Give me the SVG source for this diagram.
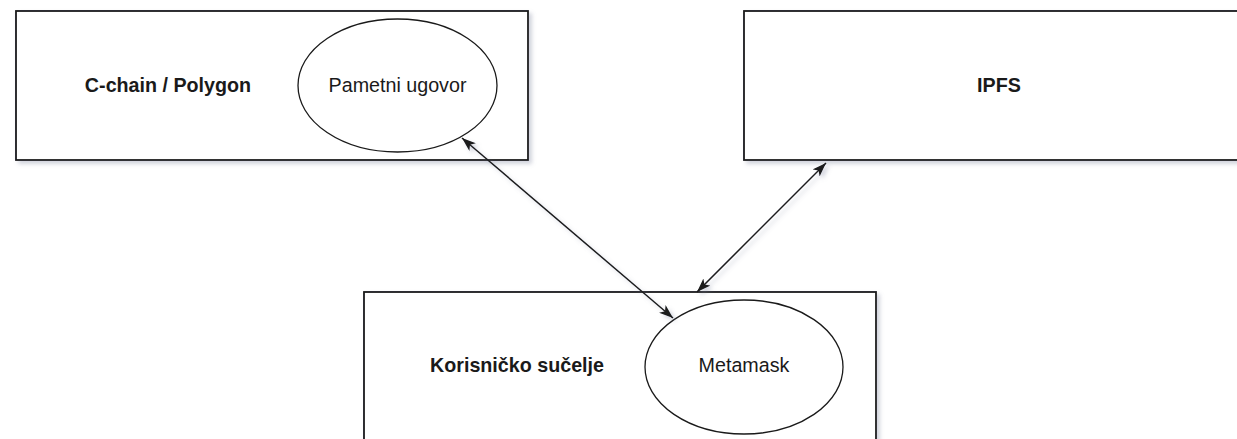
<svg xmlns="http://www.w3.org/2000/svg" width="1237" height="439" viewBox="0 0 1237 439">
  <style>
    .box { fill: #ffffff; stroke: #1a1a1a; stroke-width: 1.8; }
    .ell { fill: #ffffff; stroke: #1a1a1a; stroke-width: 1.3; }
    .lbl-b { font-family: "Liberation Sans", Arial, sans-serif; font-size: 19.7px; font-weight: bold; fill: #1a1a1a; text-anchor: middle; }
    .lbl { font-family: "Liberation Sans", Arial, sans-serif; font-size: 19.7px; fill: #1a1a1a; text-anchor: middle; }
    .conn { stroke: #1a1a1a; stroke-width: 1.5; fill: none; marker-start: url(#arr); marker-end: url(#arr); }
  </style>
  <defs>
    <filter id="sh" x="-5%" y="-10%" width="115%" height="130%">
      <feDropShadow dx="3" dy="3" stdDeviation="2" flood-color="#7a7f9a" flood-opacity="0.35"/>
    </filter>
    <marker id="arr" viewBox="0 0 14 10" refX="14" refY="5" markerWidth="14" markerHeight="10" markerUnits="userSpaceOnUse" orient="auto-start-reverse">
      <path d="M0,0 L14,5 L0,10 L3.5,5 Z" fill="#1a1a1a"/>
    </marker>
  </defs>

  <g id="node-cchain">
    <rect class="box" x="16" y="11" width="512" height="149" filter="url(#sh)"/>
    <text class="lbl-b" x="168" y="92">C-chain / Polygon</text>
  </g>
  <g id="node-pametni">
    <ellipse class="ell" cx="397.5" cy="85.5" rx="99.5" ry="66.5"/>
    <text class="lbl" x="397.5" y="92">Pametni ugovor</text>
  </g>
  <g id="node-ipfs">
    <rect class="box" x="744" y="11" width="512" height="149" filter="url(#sh)"/>
    <text class="lbl-b" x="999" y="92">IPFS</text>
  </g>
  <g id="node-korisnicko">
    <rect class="box" x="364" y="292" width="512" height="149" filter="url(#sh)"/>
    <text class="lbl-b" x="517" y="372">Korisničko sučelje</text>
  </g>
  <g id="node-metamask">
    <ellipse class="ell" cx="744" cy="367" rx="99" ry="67"/>
    <text class="lbl" x="744" y="372">Metamask</text>
  </g>

  <g id="connectors" filter="url(#sh)">
    <line class="conn" x1="462" y1="138" x2="673" y2="318"/>
    <line class="conn" x1="826" y1="163" x2="697" y2="292"/>
  </g>
</svg>
